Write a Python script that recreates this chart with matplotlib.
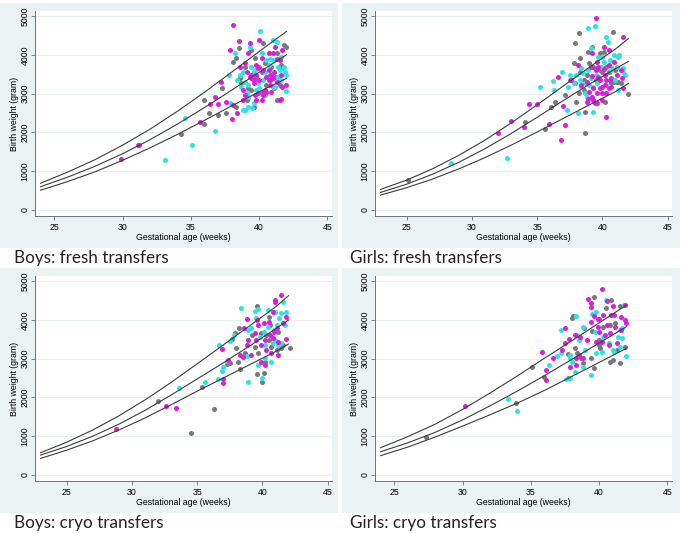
import matplotlib
matplotlib.use("Agg")
import matplotlib.pyplot as plt
from matplotlib.patches import Rectangle
import numpy as np

# ---------------- data ----------------
# Boys: fresh transfers
bf_mag_x = [29.9,31.1,31.2,35.7,36.4,36.8,37.0,37.2,37.6,37.9,38.1,38.0,38.1,38.4,38.5,38.8,39.0,39.3,39.2,39.4,39.6,39.8,40.0,40.3,40.3,40.7,40.8,40.9,41.0,41.2,41.5,41.6,41.5,41.7,41.7,42.0,
            39.1,39.3,39.4,39.6,39.8,39.9,40.0,40.2,40.4,40.5,40.7,40.8,40.9,41.0,41.1,41.3,41.3,41.6,38.6,38.8,39.0,39.7,39.9,40.3,40.5,39.8,40.2]
bf_mag_y = [1314,1667,1667,2277,2720,2920,2720,3300,2790,4120,4770,2337,2706,2490,4364,2835,3780,4296,4038,3394,3350,2835,4381,3608,3050,4038,3222,3480,4038,4210,2835,2852,3866,4124,3179,3222,
            3565,3420,3480,3265,3480,3651,3350,2835,3093,3436,3608,3350,3050,3394,3565,3307,3880,3480,3694,3093,2964,2964,3007,2964,3050,3737,3910]
bf_cya_x = [33.1,34.6,35.1,36.8,37.9,37.8,38.2,38.6,38.7,38.8,39.1,39.2,39.3,39.6,39.5,39.7,39.8,40.1,40.2,40.4,40.5,41.0,41.0,41.3,41.4,41.9,42.0,42.0,41.6,
            38.4,38.8,39.0,39.2,39.4,39.6,39.9,40.0,40.3,40.4,40.7,40.8,41.0,41.2,41.4,41.5,41.6,41.8,39.8,39.2,39.0]
bf_cya_y = [1290,2380,1667,2036,2750,3480,4040,3480,3180,2577,3007,2920,4210,2750,2620,3608,3093,4622,4038,2964,3866,3866,4381,4338,3694,3565,3480,3076,3952,
            3350,3565,3307,3222,3694,3565,3265,3136,3350,3565,3737,3900,3179,3179,3436,3608,3350,3694,2835,2663,2577]
bf_gry_x = [34.3,36.0,36.0,36.3,37.0,37.3,37.6,38.1,38.3,38.3,38.5,38.6,39.0,39.4,39.7,40.3,40.4,40.7,40.9,41.3,41.3,41.4,41.6,41.8,42.0,41.7,
            38.7,39.2,39.4,39.8,40.0,40.2,40.5,40.8,41.1,41.2,41.5,39.6,39.1]
bf_gry_y = [1960,2216,2835,2490,2450,3150,2490,3820,3910,2663,4167,3394,3694,4124,3910,4296,3780,3350,3694,4038,2835,3307,3737,4253,4210,3651,
            3265,3136,3093,3436,3694,3565,3222,3480,3136,3436,3222,2663,2835]
bf_wk = [24, 26, 28, 30, 32, 34, 36, 38, 40, 42]
bf_up = [690, 980, 1300, 1670, 2080, 2540, 3035, 3555, 4085, 4600]
bf_md = [600, 850, 1130, 1450, 1810, 2210, 2640, 3090, 3550, 4000]
bf_lo = [510, 735, 985, 1280, 1600, 1945, 2310, 2685, 3045, 3390]

# Girls: fresh transfers
gf_mag_x = [32.0,33.0,34.0,34.4,35.0,35.9,36.6,36.8,37.0,37.1,37.6,38.1,38.4,38.8,39.1,39.2,39.4,39.3,39.5,39.6,39.7,39.8,40.1,40.2,40.2,40.3,40.5,40.5,40.9,41.1,41.4,41.5,41.6,41.6,
            38.8,39.0,39.2,39.3,39.5,39.6,39.7,39.8,40.0,40.0,40.1,40.3,40.5,40.6,40.7,39.2,38.9,39.6,40.0,40.3]
gf_mag_y = [1976,2302,2130,2723,2723,2216,3436,1804,2680,2190,3350,3737,3222,2792,3694,4038,2749,2835,4940,3823,3436,3136,4210,3480,3222,2405,4124,3737,3823,3480,3608,3394,4450,3136,
            3307,3050,3460,3136,3608,3007,3694,3350,3179,2835,3630,3350,3136,3350,3179,2920,2860,2749,3007,3007]
gf_cya_x = [28.4,32.7,35.2,36.3,36.2,36.9,37.3,37.4,37.5,37.8,38.0,38.1,38.4,38.8,38.9,39.1,39.3,39.4,39.6,40.0,40.3,40.4,40.3,40.7,41.0,41.2,41.2,41.3,41.6,41.6,41.7,
            38.3,38.5,38.7,38.9,39.1,39.3,39.5,39.7,39.9,40.1,40.6,40.7,40.9,41.1,38.7,39.0,38.4]
gf_cya_y = [1203,1332,3162,3093,3333,3565,2577,3179,3480,3265,3480,2490,3651,2920,4682,4167,2534,4751,3265,3952,4467,4338,3222,3608,3350,3093,3952,3995,3651,3565,3480,
            3350,3523,3265,3608,3394,3179,3480,3952,3694,3823,3866,3694,3995,3694,3007,3222,3179]
gf_gry_x = [25.1,34.1,35.6,36.1,36.4,37.1,37.5,37.8,37.9,38.0,38.2,38.3,38.6,38.7,38.7,38.9,39.2,39.8,40.1,40.2,40.5,40.7,40.8,40.9,41.1,41.4,42.0,
            38.3,38.6,38.8,39.0,39.3,39.5,39.8,40.0,40.3,40.7,41.0,37.9,38.2,41.2]
gf_gry_y = [773,2268,2079,2663,2792,2964,3350,3780,4296,2792,4553,3910,3093,2534,1976,4081,4193,3608,4081,2792,3565,3394,4596,3307,3307,3265,2990,
            3565,3350,3480,3780,3694,3350,4038,3565,3694,3265,3608,3265,3007,3307]
gf_wk = [23, 25, 27, 29, 31, 33, 35, 37, 39, 41, 42]
gf_up = [531, 770, 1065, 1410, 1800, 2240, 2710, 3195, 3680, 4150, 4420]
gf_md = [454, 665, 925, 1230, 1580, 1970, 2390, 2820, 3240, 3640, 3830]
gf_lo = [386, 575, 800, 1060, 1350, 1670, 2010, 2360, 2710, 3050, 3265]

# Boys: cryo transfers
bc_mag_x = [28.8,32.6,33.4,36.9,37.0,37.0,37.4,38.3,38.5,38.6,38.8,38.8,38.9,39.1,39.6,39.7,39.9,39.9,40.2,40.2,40.5,40.6,40.7,40.8,41.0,41.0,41.1,41.2,41.4,41.8,41.8,41.2,41.6,
            39.4,39.5,40.1,40.3,40.9,40.8]
bc_mag_y = [1177,1787,1718,3239,2474,2363,2964,3093,3050,3797,4021,3350,3480,3093,3995,3866,3350,2920,2835,3480,3952,3608,3136,4210,4467,4510,3780,3093,4639,4081,3505,3419,3909,
            3651,3480,3909,3222,3694,3522]
bc_cya_x = [33.6,35.6,36.6,36.7,36.9,37.0,37.3,37.5,37.8,38.4,38.8,38.9,38.9,39.1,39.4,39.7,39.7,39.8,40.0,40.2,40.4,40.4,40.7,41.0,41.1,41.3,41.4,41.6,41.7,41.8,41.4,
            39.5,40.1,40.2,40.8,41.0,41.2,40.9]
bc_cya_y = [2251,2388,2466,3350,2680,2792,2938,3453,3608,4313,3076,2405,3737,3780,4227,4270,2835,3565,2490,3007,3823,4253,2920,4210,3866,4038,4167,4450,3866,4193,3394,
            4038,3694,3350,3394,3480,3350,3737]
bc_gry_x = [32.0,34.5,35.4,36.3,37.3,37.5,37.7,37.9,38.0,38.1,38.2,38.3,38.7,39.2,39.6,39.6,39.7,40.0,40.1,40.2,40.5,40.6,40.7,40.9,41.2,42.1,41.4,
            39.4,39.9,40.3,40.5,41.1,41.6]
bc_gry_y = [1907,1091,2277,1692,2852,2878,3505,3651,3265,2920,3780,2732,3136,3608,4356,2595,3136,2405,2620,2920,4081,3866,3307,4210,3694,3282,3265,
            3307,3651,3608,3480,3222,3350]
bc_wk = [23, 25, 27, 29, 31, 33, 35, 37, 39, 41, 42]
bc_up = [574, 845, 1160, 1525, 1935, 2385, 2865, 3350, 3840, 4330, 4620]
bc_md = [514, 735, 1000, 1310, 1665, 2060, 2475, 2890, 3320, 3765, 3995]
bc_lo = [428, 640, 880, 1160, 1470, 1810, 2160, 2500, 2840, 3180, 3376]

# Girls: cryo transfers
gc_mag_x = [30.2,35.8,36.1,36.1,36.6,37.3,37.5,37.5,37.8,37.9,38.3,38.3,38.2,38.5,38.6,38.8,39.1,39.2,39.4,39.4,39.4,39.6,39.8,39.9,39.9,40.0,40.0,40.2,40.2,40.3,40.4,40.6,40.6,40.7,40.8,40.9,41.0,41.1,41.2,41.3,41.6,41.6,41.9,41.9,42.0]
gc_mag_y = [1787,3162,2706,2448,3007,3222,3394,3780,3505,2792,3007,2835,3608,3093,3565,3007,3480,4527,4338,4424,3952,4107,3436,4021,3823,3694,4021,4794,3436,4124,3608,3866,4484,3350,3651,4124,4364,4124,3823,3394,4081,3737,4381,3995,3910]
gc_cya_x = [33.3,34.0,36.3,36.9,37.2,37.2,37.6,37.9,37.9,37.9,38.0,38.2,38.3,38.4,38.5,38.8,38.8,39.0,39.4,39.5,39.7,39.8,39.8,40.2,40.3,40.5,40.7,41.0,41.1,41.4,41.5,41.7,41.7,41.8,42.0,41.5]
gc_cya_y = [1959,1650,2835,3076,3737,3136,2474,2490,3024,3093,2920,2663,4107,3608,3480,2792,3823,3222,2577,4141,3694,3136,4210,3179,3565,4510,3394,3222,3179,3565,3737,3523,3780,4381,3076,3307]
gc_gry_x = [27.3,33.9,35.1,36.0,37.7,37.7,38.0,38.1,38.2,38.4,38.7,38.8,38.9,39.4,39.5,39.6,39.6,40.0,40.0,40.1,40.3,40.5,40.8,40.9,41.0,40.8,41.2,41.3,41.5,41.5,41.9]
gc_gry_y = [971,1847,2784,2534,2490,3110,4055,4107,3265,3136,3007,2878,3780,3007,3711,4588,2749,3480,3350,3282,3823,4313,3866,4510,2964,2920,3910,3222,4364,2895,3307]
gc_wk = [24, 26, 28, 30, 32, 34, 36, 38, 40, 42]
gc_up = [704, 990, 1310, 1690, 2110, 2550, 3010, 3460, 3920, 4381]
gc_md = [600, 830, 1100, 1420, 1780, 2160, 2560, 2980, 3400, 3823]
gc_lo = [498, 720, 980, 1260, 1550, 1850, 2180, 2540, 2900, 3265]

captions = ["Boys: fresh transfers", "Girls: fresh transfers",
            "Boys: cryo transfers", "Girls: cryo transfers"]
y_ticks = [0, 1000, 2000, 3000, 4000, 5000]
x_ticks = [25, 30, 35, 40, 45]
x_title = "Gestational age (weeks)"
y_title = "Birth weight (gram)"

# ---------------- drawing ----------------
W, H = 683, 533
fig = plt.figure(figsize=(W / 100, H / 100), dpi=100)
fig.patch.set_facecolor("white")

BG = "#eaf2f3"
MAG, CYA, GRY = "#dc1edc", "#2ae4e4", "#787878"
LINE = "#3c3c3c"

panels = [
    dict(px=(35, 332), py=(11, 216), bg=(0, 3, 338, 248), cap=(14, 258), xlim=(23.59, 45.34),
         mag=(bf_mag_x, bf_mag_y), cya=(bf_cya_x, bf_cya_y), gry=(bf_gry_x, bf_gry_y),
         wk=bf_wk, curves=(bf_up, bf_md, bf_lo)),
    dict(px=(375, 672), py=(11, 216), bg=(342, 3, 680, 248), cap=(350, 258), xlim=(22.57, 45.34),
         mag=(gf_mag_x, gf_mag_y), cya=(gf_cya_x, gf_cya_y), gry=(gf_gry_x, gf_gry_y),
         wk=gf_wk, curves=(gf_up, gf_md, gf_lo)),
    dict(px=(35, 332), py=(276, 481), bg=(0, 268, 338, 513), cap=(14, 523), xlim=(22.57, 45.34),
         mag=(bc_mag_x, bc_mag_y), cya=(bc_cya_x, bc_cya_y), gry=(bc_gry_x, bc_gry_y),
         wk=bc_wk, curves=(bc_up, bc_md, bc_lo)),
    dict(px=(375, 672), py=(276, 481), bg=(342, 268, 680, 513), cap=(350, 523), xlim=(23.59, 45.34),
         mag=(gc_mag_x, gc_mag_y), cya=(gc_cya_x, gc_cya_y), gry=(gc_gry_x, gc_gry_y),
         wk=gc_wk, curves=(gc_up, gc_md, gc_lo)),
]

axfont = "Liberation Sans"
for i, p in enumerate(panels):
    x0, y0, x1, y1 = p["bg"]
    fig.patches.append(Rectangle((x0 / W, 1 - y1 / H), (x1 - x0) / W, (y1 - y0) / H,
                                 transform=fig.transFigure, facecolor=BG, edgecolor="none", zorder=-10))
    l, r = p["px"]
    t, b = p["py"]
    ax = fig.add_axes([l / W, 1 - b / H, (r - l) / W, (b - t) / H])
    ax.set_zorder(1)
    ax.set_facecolor("white")
    ax.set_xlim(*p["xlim"])
    ax.set_ylim(-155, 5130)
    ax.set_yticks(y_ticks)
    ax.set_xticks(x_ticks)
    ax.yaxis.grid(True, color="#e6eef0", linewidth=0.8)
    ax.set_axisbelow(True)
    for s in ["top", "right"]:
        ax.spines[s].set_visible(False)
    for s in ["left", "bottom"]:
        ax.spines[s].set_color("#6e7474")
        ax.spines[s].set_linewidth(0.7)
    ax.tick_params(axis="both", length=3, width=0.6, color="#6e7474", labelsize=6.3)
    ax.tick_params(axis="y", pad=1)
    ax.tick_params(axis="x", pad=2)
    for lab in ax.get_yticklabels():
        lab.set_rotation(90)
        lab.set_va("center")
        lab.set_family(axfont)
    for lab in ax.get_xticklabels():
        lab.set_family(axfont)
    ax.set_xlabel(x_title, fontsize=6.3, family=axfont, labelpad=1)
    ax.set_ylabel(y_title, fontsize=6.3, family=axfont, labelpad=1)

    ax.scatter(*p["gry"], s=13, color=GRY, linewidths=0, zorder=2)
    ax.scatter(*p["cya"], s=13, color=CYA, linewidths=0, zorder=2)
    ax.scatter(*p["mag"], s=13, color=MAG, linewidths=0, zorder=2)
    for c in p["curves"]:
        ax.plot(p["wk"], c, color=LINE, linewidth=0.8, zorder=3)

    cx, cy = p["cap"]
    fig.text(cx / W, 1 - cy / H, captions[i], fontsize=12.3, family="Lato",
             ha="left", va="center", color="#222222", zorder=5)

fig.savefig("out.png", dpi=100, facecolor="white")
